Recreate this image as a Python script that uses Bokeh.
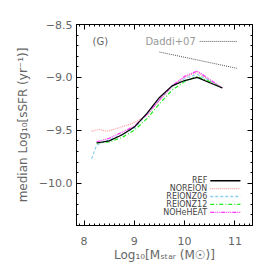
from bokeh.plotting import figure
from bokeh.models import LinearAxis, FixedTicker
from bokeh.embed import file_html
from bokeh.resources import INLINE
from bokeh.core.properties import value

# ---- data ----
mass_bins = [8.25, 8.5, 8.75, 9.0, 9.25, 9.5, 9.75, 10.0, 10.25, 10.5, 10.75]
ref = [-9.62, -9.60, -9.545, -9.47, -9.34, -9.19, -9.08, -9.03, -9.00, -9.05, -9.10]

noreion_x = [8.15, 8.3, 8.45, 8.7, 8.9, 9.05, 9.25, 9.5, 9.75, 10.0, 10.25, 10.5, 10.75]
noreion = [-9.51, -9.49, -9.51, -9.475, -9.445, -9.415, -9.36, -9.22, -9.09, -9.00, -8.95, -9.03, -9.10]

reionz06_x = [8.15, 8.25, 8.5, 8.75, 9.0, 9.25, 9.5, 9.75, 10.0, 10.25, 10.5, 10.75]
reionz06 = [-9.77, -9.64, -9.59, -9.54, -9.48, -9.35, -9.21, -9.09, -9.01, -8.97, -9.03, -9.10]

reionz12 = [-9.62, -9.61, -9.57, -9.50, -9.39, -9.25, -9.12, -9.04, -8.99, -9.04, -9.10]
noheheat = [-9.61, -9.575, -9.52, -9.46, -9.35, -9.21, -9.08, -8.99, -8.94, -9.02, -9.10]

daddi_x = [9.5, 11.05]
daddi_y = [-8.76, -8.915]

series_names = ["REF", "NOREION", "REIONZ06", "REIONZ12", "NOHeHEAT"]
series_colors = ["black", "#ff9a9a", "#8ccfee", "#22ee22", "#ff33ff"]
series_dash = ["solid", "1 1", "3 2", "4 2 1 2", "4 1 1 1 1 1 1 1"]
series_x = [mass_bins, noreion_x, reionz06_x, mass_bins, mass_bins]
series_y = [ref, noreion, reionz06, reionz12, noheheat]

x_major = [8, 9, 10, 11]
y_major = [-8.5, -9.0, -9.5, -10.0]
y_labels = {-8.5: "\u22128.5", -9.0: "\u22129.0", -9.5: "\u22129.5", -10.0: "\u221210.0"}

FONT = "DejaVu Sans"
GRAY = "#666666"

p = figure(width=274, height=274, x_range=(7.85, 11.35), y_range=(-10.4, -8.5),
           output_backend="svg", toolbar_location=None,
           min_border_left=76, min_border_right=22, min_border_top=24, min_border_bottom=49)
p.grid.visible = False
p.outline_line_color = "black"
p.outline_line_width = 1
p.background_fill_color = "white"
p.border_fill_color = "white"

x_minor = [round(7.9 + 0.1 * i, 2) for i in range(35)]
y_minor = [round(-10.4 + 0.1 * i, 2) for i in range(20)]

def style(ax, ticks, minor, labels=True):
    ax.ticker = FixedTicker(ticks=ticks, minor_ticks=minor)
    ax.axis_line_color = "black"
    ax.major_tick_in = 5
    ax.major_tick_out = 0
    ax.minor_tick_in = 2
    ax.minor_tick_out = 0
    ax.major_tick_line_color = "black"
    ax.minor_tick_line_color = "black"
    ax.major_label_text_font = FONT
    ax.major_label_text_color = GRAY
    ax.major_label_text_font_size = "11px"
    ax.axis_label_text_font = FONT
    ax.axis_label_text_color = GRAY
    ax.axis_label_text_font_style = "normal"
    ax.axis_label_text_font_size = "12px"
    if not labels:
        ax.major_label_overrides = {t: "" for t in ticks}
        ax.major_label_standoff = 0

style(p.xaxis[0], x_major, x_minor)
style(p.yaxis[0], y_major, y_minor)
p.yaxis[0].major_label_overrides = y_labels
p.xaxis[0].major_label_standoff = 11
p.yaxis[0].major_label_standoff = 4
p.xaxis[0].axis_label = "Log\u2081\u2080[M\u209b\u209c\u2090\u1d63 (M\u2609)]"
p.yaxis[0].axis_label = "median Log\u2081\u2080[sSFR (yr\u207b\u00b9)]"
p.xaxis[0].axis_label_standoff = 0
p.yaxis[0].axis_label_standoff = 6

top = LinearAxis()
style(top, x_major, x_minor, labels=False)
p.add_layout(top, "above")
right = LinearAxis()
style(right, y_major, y_minor, labels=False)
p.add_layout(right, "right")

# data lines (draw REF last so it sits on top)
order = [1, 2, 3, 4, 0]
for i in order:
    p.line(series_x[i], series_y[i], line_color=series_colors[i], line_width=1.2,
           line_dash=series_dash[i])

# Daddi+07 relation
p.line(daddi_x, daddi_y, line_color="#555555", line_width=1, line_dash="1 1")

# annotations
p.text(x=[8.17], y=[-8.66], text=["(G)"], text_font=value(FONT), text_font_size="10px",
       text_color=GRAY, text_baseline="middle", text_align="left")
p.text(x=[9.22], y=[-8.66], text=["Daddi+07"], text_font=value(FONT), text_font_size="10px",
       text_color="#999999", text_baseline="middle", text_align="left")
p.line([10.30, 11.04], [-8.66, -8.66], line_color="#555555", line_width=1, line_dash="1 1")

# legend (text right-aligned, sample line to the right)
leg_top = -9.977
leg_step = 0.0745
leg_text_x = 10.45
leg_line = [10.51, 11.11]
for k, name in enumerate(series_names):
    yy = leg_top - k * leg_step
    p.text(x=[leg_text_x], y=[yy], text=[name], text_font=value(FONT), text_font_size="8px",
           text_color="#444444", text_baseline="middle", text_align="right")
    p.line(leg_line, [yy, yy], line_color=series_colors[k], line_width=1.3,
           line_dash=series_dash[k])

open("out.html", "w").write(file_html(p, INLINE))
